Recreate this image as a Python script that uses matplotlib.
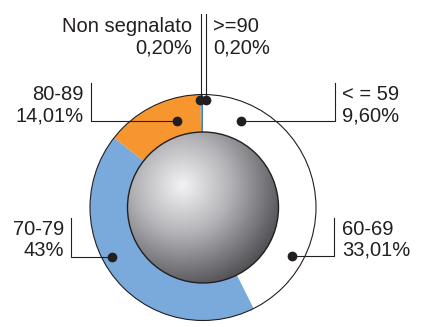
import numpy as np
import matplotlib
matplotlib.use('Agg')
import matplotlib.pyplot as plt
from matplotlib.patches import Circle
from matplotlib.colors import LinearSegmentedColormap

# data
categories = ['< = 59', '60-69', '70-79', '80-89', 'Non segnalato', '>=90']
values = [9.60, 33.01, 43.0, 14.01, 0.20, 0.20]
pct_labels = ['9,60%', '33,01%', '43%', '14,01%', '0,20%', '0,20%']
slice_colors = ['#ffffff', '#ffffff', '#7aaadb', '#f7962f', '#8a8a8a', '#3d7fc9']

# layout in pixel coords (y from top)
W, H = 422, 327
cx, cy = 203, 207.5
r_out, r_in = 113, 75.5
# dot (x, y), bar x, bar top y, text x, baseline 1, alignment
callouts = {
    '< = 59':        ((241, 121), 335, 83, 342, 100, 'left'),
    '60-69':         ((292, 256), 334, 218, 342, 235, 'left'),
    '70-79':         ((112, 257), 71, 218, 64, 235, 'right'),
    '80-89':         ((177, 121), 91, 83, 84, 100, 'right'),
    'Non segnalato': ((200, 100), 200.5, 14, 192, 32, 'right'),
    '>=90':          ((205.5, 100), 205.5, 14, 213, 32, 'left'),
}
txt_color = '#231f20'
plt.rcParams['font.family'] = ['Liberation Sans', 'DejaVu Sans']

fig = plt.figure(figsize=(W / 100, H / 100), dpi=100)
ax = fig.add_axes([0, 0, 1, 1])

# y axis gets inverted below, so visual clockwise from top = counterclock from -90
ax.pie(values, colors=slice_colors, center=(cx, cy), radius=r_out,
       startangle=-90, counterclock=True,
       wedgeprops=dict(linewidth=0, edgecolor='none'))
ax.add_patch(Circle((cx, cy), r_out, fill=False, ec='#231f20', lw=0.8, zorder=3))

# sphere with radial gradient
n = 400
xs = np.linspace(cx - r_in, cx + r_in, n)
ys = np.linspace(cy - r_in, cy + r_in, n)
gx, gy = np.meshgrid(xs, ys)
hx, hy = cx - 21, cy - 22
d = np.hypot(gx - hx, gy - hy)
t = np.clip(d / 106.0, 0, 1)
sphere_cmap = LinearSegmentedColormap.from_list(
    'sph', [(0, '#f3f3f5'), (0.45, '#b4b4b8'), (1, '#4e4e53')])
im = ax.imshow(t, cmap=sphere_cmap, vmin=0, vmax=1, origin='upper',
               extent=[cx - r_in, cx + r_in, cy + r_in, cy - r_in], zorder=4,
               interpolation='bilinear')
clip = Circle((cx, cy), r_in, transform=ax.transData, fc='none', ec='none')
ax.add_patch(clip)
im.set_clip_path(clip)
ax.add_patch(Circle((cx, cy), r_in, fill=False, ec='#231f20', lw=1.0, zorder=5))

# callouts
for cat, pct in zip(categories, pct_labels):
    (dx, dy), bx, btop, tx, base, ha = callouts[cat]
    if cat in ('Non segnalato', '>=90'):
        ax.plot([bx, bx], [btop, dy], color=txt_color, lw=0.8, zorder=6)
    else:
        ax.plot([dx, bx, bx], [dy, dy, btop], color=txt_color, lw=0.8, zorder=6)
    ax.plot(dx, dy, 'o', color=txt_color, ms=6, zorder=7)
    ax.text(tx, base, cat, ha=ha, va='baseline', fontsize=14.5, color=txt_color)
    ax.text(tx, base + 21, pct, ha=ha, va='baseline', fontsize=14.5, color=txt_color)

ax.set_xlim(0, W)
ax.set_ylim(H, 0)
ax.set_aspect('auto')
ax.axis('off')
fig.savefig('out.png', dpi=100, facecolor='white')
